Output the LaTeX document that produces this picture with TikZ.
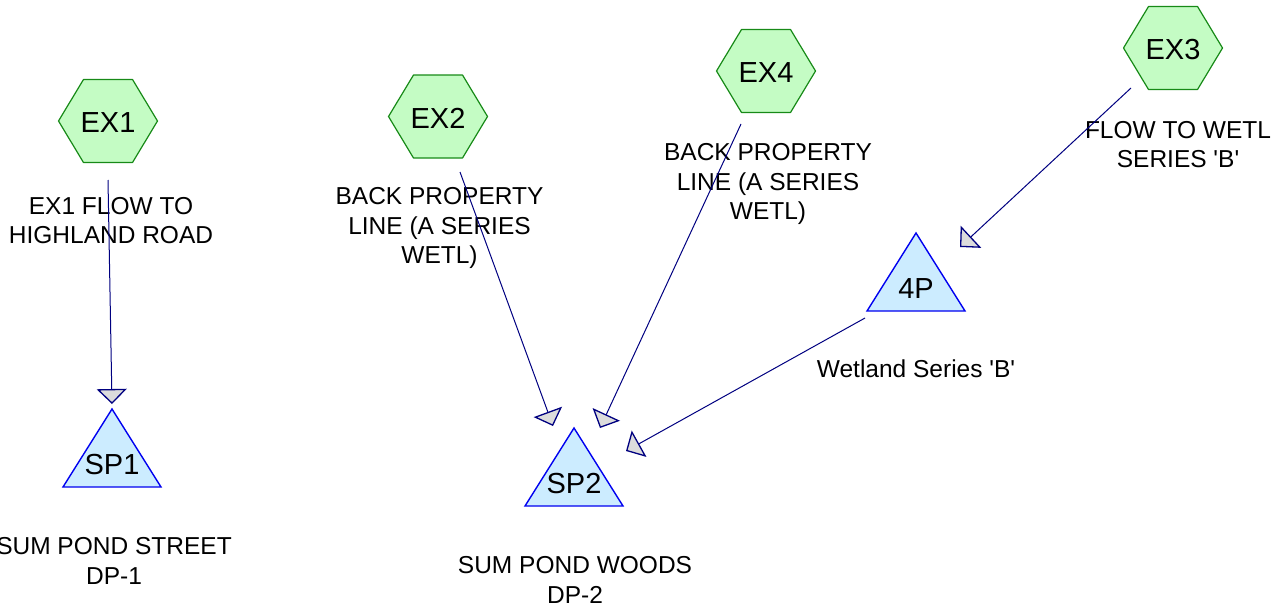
\documentclass[tikz,border=0pt]{standalone}
\usepackage{fontspec}
\setmainfont{Liberation Sans}
\usetikzlibrary{arrows.meta}
\definecolor{hexfill}{HTML}{C4FCC4}
\definecolor{hexline}{HTML}{178A17}
\definecolor{trifill}{HTML}{CCECFF}
\definecolor{triline}{HTML}{0000F0}
\definecolor{flowline}{HTML}{000080}
\definecolor{tipfill}{HTML}{DCDCDC}
\tikzset{
  hexpic/.pic={\draw[draw=hexline,fill=hexfill,line width=1.2pt,line join=round]
     (-49.5,0) -- (-24.5,-41.5) -- (24.5,-41.5) -- (49.5,0) -- (24.5,41.5) -- (-24.5,41.5) -- cycle;},
  tripic/.pic={\draw[draw=triline,fill=trifill,line width=1.4pt,line join=miter]
     (0,-39) -- (49,39) -- (-49,39) -- cycle;},
  idlabel/.style={font=\fontsize{29}{34}\selectfont, inner sep=0pt},
  note/.style={font=\fontsize{24.5}{29.2}\selectfont, align=center, inner sep=0pt},
  flow/.style={draw=flowline, line width=1pt,
     -{Triangle[length=15pt,width=30pt,fill=tipfill,line width=1.3pt]}},
}
\begin{document}
\begin{tikzpicture}[x=1pt,y=-1pt]
\useasboundingbox (0,0) rectangle (1281,608);
% hexagons
\pic at (108,121) {hexpic};
\pic at (438,116.5) {hexpic};
\pic at (766,71) {hexpic};
\pic at (1173,48) {hexpic};
\node[idlabel] (ex1) at (108,123) {EX1};
\node[idlabel] (ex2) at (438,118.5) {EX2};
\node[idlabel] (ex4) at (766,73) {EX4};
\node[idlabel] (ex3) at (1173,50) {EX3};
% triangles
\pic at (112,448) {tripic};
\pic at (574,467) {tripic};
\pic at (916,272) {tripic};
\node[idlabel] (sp1) at (112,465) {SP1};
\node[idlabel] (sp2) at (574,484) {SP2};
\node[idlabel] (p4) at (916,289) {4P};
% notes
\node[note] (n1) at (111,220.5) {EX1 FLOW TO\\HIGHLAND ROAD};
\node[note] (n2) at (439.5,228) {BACK PROPERTY\\LINE (A SERIES\\WETL)};
\node[note] (n4) at (768,184) {BACK PROPERTY\\LINE (A SERIES\\WETL)};
\node[note] (n3) at (1178,144.5) {FLOW TO WETL\\SERIES \textquotesingle B\textquotesingle};
\node[note] (n5) at (916,369) {Wetland Series \textquotesingle B\textquotesingle};
\node[note] (n6) at (114,561) {SUM POND STREET\\DP-1};
\node[note] (n7) at (575,580) {SUM POND WOODS\\DP-2};
% connector ends
\coordinate (s1) at (108,180);
\coordinate (t1) at (112,404);
\coordinate (s2) at (460,172);
\coordinate (t2) at (553,426);
\coordinate (s4) at (741,124);
\coordinate (t4) at (600,428);
\coordinate (s3) at (1131,88);
\coordinate (t3) at (960,247);
\coordinate (s5) at (865,318);
\coordinate (t5) at (626,451);
\draw[flow] (s1) -- (t1);
\draw[flow] (s2) -- (t2);
\draw[flow] (s4) -- (t4);
\draw[flow] (s3) -- (t3);
\draw[flow] (s5) -- (t5);
\end{tikzpicture}
\end{document}
